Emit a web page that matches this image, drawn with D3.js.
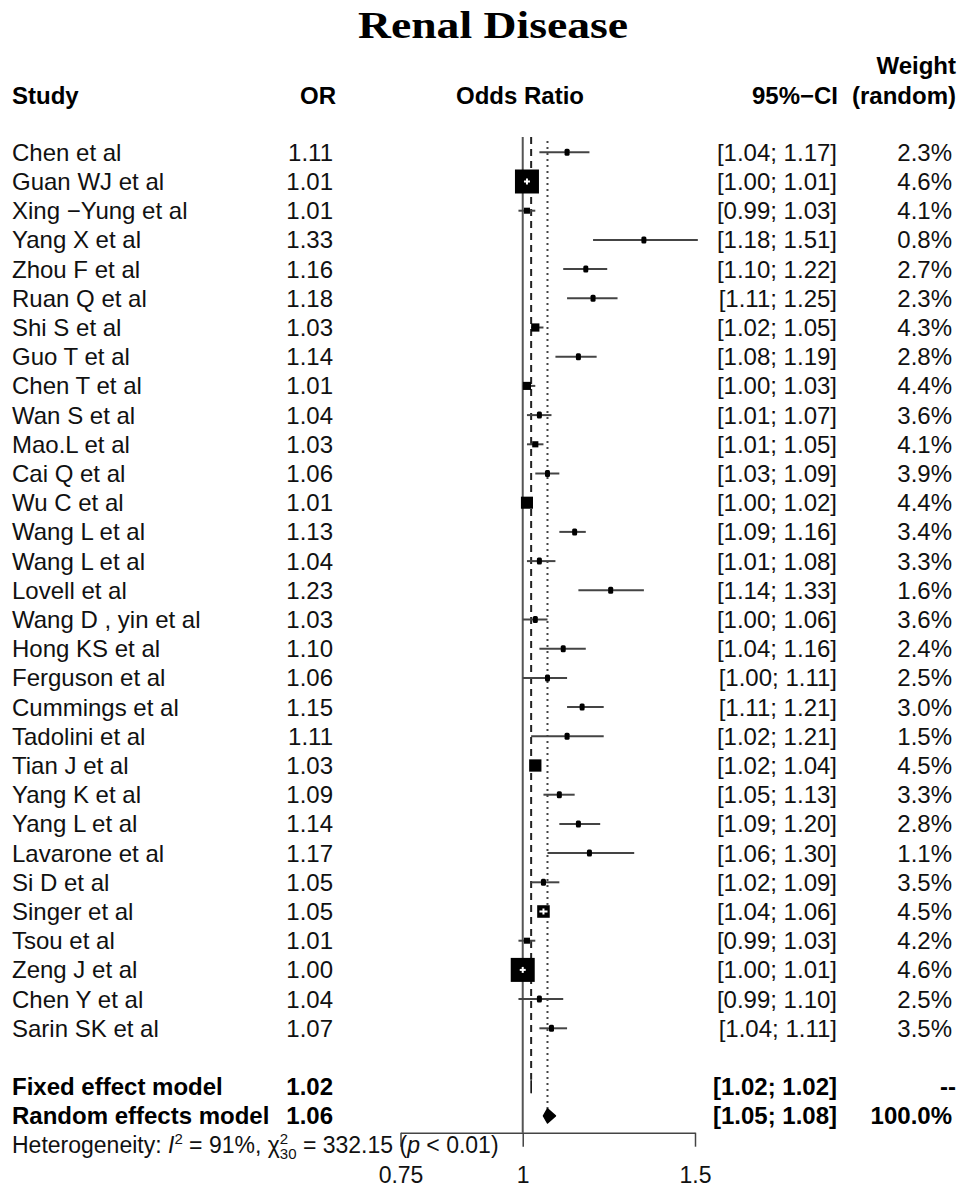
<!DOCTYPE html>
<html>
<head>
<meta charset="utf-8">
<script src="https://cdn.jsdelivr.net/npm/d3@7"></script>
<style>
  html, body { margin: 0; padding: 0; background: #fff; }
  svg { display: block; }
</style>
</head>
<body>
<svg id="chart" width="960" height="1188"></svg>
<script>
// Forest plot: odds ratios for renal disease across studies
const studies = ["Chen et al", "Guan WJ et al", "Xing \u2212Yung et al", "Yang X et al", "Zhou F et al",
  "Ruan Q et al", "Shi S et al", "Guo T et al", "Chen T et al", "Wan S et al", "Mao.L et al",
  "Cai Q et al", "Wu C et al", "Wang L et al", "Wang L et al", "Lovell et al", "Wang D , yin et al",
  "Hong KS et al", "Ferguson et al", "Cummings et al", "Tadolini et al", "Tian J et al",
  "Yang K et al", "Yang L et al", "Lavarone et al", "Si D et al", "Singer et al", "Tsou et al",
  "Zeng J et al", "Chen Y et al", "Sarin SK et al"];
const oddsRatio = [1.11, 1.01, 1.01, 1.33, 1.16, 1.18, 1.03, 1.14, 1.01, 1.04, 1.03, 1.06, 1.01, 1.13,
  1.04, 1.23, 1.03, 1.10, 1.06, 1.15, 1.11, 1.03, 1.09, 1.14, 1.17, 1.05, 1.05, 1.01, 1.00, 1.04, 1.07];
const ciLower = [1.04, 1.00, 0.99, 1.18, 1.10, 1.11, 1.02, 1.08, 1.00, 1.01, 1.01, 1.03, 1.00, 1.09,
  1.01, 1.14, 1.00, 1.04, 1.00, 1.11, 1.02, 1.02, 1.05, 1.09, 1.06, 1.02, 1.04, 0.99, 1.00, 0.99, 1.04];
const ciUpper = [1.17, 1.01, 1.03, 1.51, 1.22, 1.25, 1.05, 1.19, 1.03, 1.07, 1.05, 1.09, 1.02, 1.16,
  1.08, 1.33, 1.06, 1.16, 1.11, 1.21, 1.21, 1.04, 1.13, 1.20, 1.30, 1.09, 1.06, 1.03, 1.01, 1.10, 1.11];
const weightRandom = [2.3, 4.6, 4.1, 0.8, 2.7, 2.3, 4.3, 2.8, 4.4, 3.6, 4.1, 3.9, 4.4, 3.4, 3.3, 1.6,
  3.6, 2.4, 2.5, 3.0, 1.5, 4.5, 3.3, 2.8, 1.1, 3.5, 4.5, 4.2, 4.6, 2.5, 3.5];

// Pooled estimates
const pooledModels = ["Fixed effect model", "Random effects model"];
const pooledOR = [1.02, 1.06];
const pooledLower = [1.02, 1.05];
const pooledUpper = [1.02, 1.08];
const pooledWeight = ["--", "100.0%"];

const heterogeneity = { I2: "91%", df: "30", Q: "332.15", p: "0.01" };
const axisTicks = [0.75, 1, 1.5];

const fmt2 = d3.format(".2f");
const FONT = "'Liberation Sans', Arial, Helvetica, sans-serif";

const svg = d3.select("#chart");
svg.append("rect").attr("width", 960).attr("height", 1188).attr("fill", "#fff");

const x = d3.scaleLog().domain([0.75, 1.5]).range([400.5, 695]);
const rowTop = 152.3, rowStep = 29.2;
const y = i => rowTop + rowStep * i;
const nStudies = studies.length;
const yFixed = y(nStudies + 1), yRandom = y(nStudies + 2);
const axisY = 1132.7;

// Title
svg.append("text")
  .attr("x", 358).attr("y", 38)
  .attr("textLength", 270).attr("lengthAdjust", "spacingAndGlyphs")
  .style("font-family", "'Liberation Serif', 'Times New Roman', serif")
  .style("font-weight", "bold").style("font-size", "38px")
  .text("Renal Disease");

// Column headers
const hdr = svg.append("g").style("font-family", FONT).style("font-size", "24px").style("font-weight", "bold");
const headerY = 104;
hdr.append("text").attr("x", 12).attr("y", headerY).text("Study");
hdr.append("text").attr("x", 336).attr("y", headerY).attr("text-anchor", "end").text("OR");
hdr.append("text").attr("x", 520).attr("y", headerY).attr("text-anchor", "middle").text("Odds Ratio");
hdr.append("text").attr("x", 838).attr("y", headerY).attr("text-anchor", "end").text("95%\u2212CI");
hdr.append("text").attr("x", 956).attr("y", headerY).attr("text-anchor", "end").text("(random)");
hdr.append("text").attr("x", 956).attr("y", headerY - 30).attr("text-anchor", "end").text("Weight");

// Reference lines: null effect, fixed and random pooled estimates
svg.append("line")
  .attr("x1", x(1)).attr("x2", x(1)).attr("y1", 137).attr("y2", axisY)
  .attr("stroke", "#555").attr("stroke-width", 2);
svg.append("line")
  .attr("x1", x(pooledOR[0])).attr("x2", x(pooledOR[0])).attr("y1", 137).attr("y2", yFixed - 7)
  .attr("stroke", "#222").attr("stroke-width", 2).attr("stroke-dasharray", "7,5");
svg.append("line")
  .attr("x1", x(pooledOR[1])).attr("x2", x(pooledOR[1])).attr("y1", 141).attr("y2", yRandom - 7)
  .attr("stroke", "#444").attr("stroke-width", 2).attr("stroke-dasharray", "2,4");

// Study rows
const rows = studies.map((s, i) => ({
  name: s, or: oddsRatio[i], lo: ciLower[i], hi: ciUpper[i], w: weightRandom[i], i
}));

// Box side follows inverse-variance weight derived from the CI width
const boxSide = d => {
  const width = Math.log(d.hi) - Math.log(d.lo);
  return Math.max(5, Math.min(24, 0.239 / width));
};

const marks = svg.append("g");
rows.forEach(d => {
  const cy = y(d.i);
  marks.append("line")
    .attr("x1", x(d.lo)).attr("x2", x(d.hi)).attr("y1", cy).attr("y2", cy)
    .attr("stroke", "#444").attr("stroke-width", 2);
  const s = boxSide(d);
  if (s <= 6) {
    // very light studies: a small point with a short tick through it
    marks.append("rect")
      .attr("x", x(d.or) - 2.5).attr("y", cy - 3.5)
      .attr("width", 5).attr("height", 7).attr("rx", 1.5).attr("fill", "#000");
  } else {
    marks.append("rect")
      .attr("x", x(d.or) - s / 2).attr("y", cy - s / 2)
      .attr("width", s).attr("height", s).attr("fill", "#000");
  }
  if (s >= 12.5) {
    const half = Math.max(3, (x(d.hi) - x(d.lo)) / 2);
    marks.append("line")
      .attr("x1", x(d.or) - half).attr("x2", x(d.or) + half).attr("y1", cy).attr("y2", cy)
      .attr("stroke", "#fff").attr("stroke-width", 2);
    marks.append("line")
      .attr("x1", x(d.or)).attr("x2", x(d.or)).attr("y1", cy - 3).attr("y2", cy + 3)
      .attr("stroke", "#fff").attr("stroke-width", 2);
  }
});

// Text columns
const txt = svg.append("g").style("font-family", FONT).style("font-size", "24px").attr("fill", "#111");
rows.forEach(d => {
  const by = y(d.i) + 8.5;
  txt.append("text").attr("x", 12).attr("y", by).text(d.name);
  txt.append("text").attr("x", 333).attr("y", by).attr("text-anchor", "end").text(fmt2(d.or));
  txt.append("text").attr("x", 837).attr("y", by).attr("text-anchor", "end")
    .text(`[${fmt2(d.lo)}; ${fmt2(d.hi)}]`);
  txt.append("text").attr("x", 952).attr("y", by).attr("text-anchor", "end").text(d.w.toFixed(1) + "%");
});

// Pooled rows
pooledModels.forEach((m, k) => {
  const cy = k === 0 ? yFixed : yRandom;
  const by = cy + 8.5;
  const g = svg.append("g").style("font-family", FONT).style("font-size", "24px").style("font-weight", "bold");
  g.append("text").attr("x", 12).attr("y", by).text(m);
  g.append("text").attr("x", 333).attr("y", by).attr("text-anchor", "end").text(fmt2(pooledOR[k]));
  g.append("text").attr("x", 837).attr("y", by).attr("text-anchor", "end")
    .text(`[${fmt2(pooledLower[k])}; ${fmt2(pooledUpper[k])}]`);
  g.append("text").attr("x", k === 0 ? 956 : 952).attr("y", by).attr("text-anchor", "end").text(pooledWeight[k]);
  const h = k === 0 ? 6 : 7;
  const pts = [[x(pooledLower[k]), cy], [x(pooledOR[k]), cy - h], [x(pooledUpper[k]), cy], [x(pooledOR[k]), cy + h]];
  svg.append("path")
    .attr("d", d3.line()(pts) + "Z")
    .attr("fill", "#000").attr("stroke", "#000").attr("stroke-width", 1.5).attr("stroke-linejoin", "round");
});

// Axis
const axis = d3.axisBottom(x).tickValues(axisTicks).tickFormat(d => String(d)).tickSize(14).tickSizeOuter(0);
const ax = svg.append("g").attr("transform", `translate(0,${axisY})`).call(axis);
ax.select(".domain").attr("stroke", "#444").attr("stroke-width", 1.5);
ax.selectAll(".tick line").attr("stroke", "#444").attr("stroke-width", 1.5);
ax.selectAll(".tick text")
  .attr("y", 50.3).attr("dy", 0)
  .style("font-family", FONT).style("font-size", "23px").attr("fill", "#111");

// Heterogeneity statement
const het = svg.append("g").style("font-family", FONT).style("font-size", "23px")
  .style("white-space", "pre").attr("fill", "#111");
const hetY = 1153;
let cx = 12;
function piece(str, opts = {}) {
  const t = het.append("text").attr("x", cx).attr("y", hetY + (opts.dy || 0))
    .attr("xml:space", "preserve").text(str);
  if (opts.italic) t.style("font-style", "italic");
  if (opts.size) t.style("font-size", opts.size + "px");
  const w = t.node().getComputedTextLength();
  if (!opts.noAdvance) cx += w;
  return w;
}
piece("Heterogeneity: ");
piece("I", { italic: true });
piece("2", { size: 15, dy: -9 });
piece(" = " + heterogeneity.I2 + ", ");
piece("\u03c7");
piece("2", { size: 15, dy: -9, noAdvance: true });
piece(heterogeneity.df, { size: 15, dy: 6 });
piece(" = " + heterogeneity.Q + " (");
piece("p", { italic: true });
piece(" < " + heterogeneity.p + ")");
</script>
</body>
</html>
